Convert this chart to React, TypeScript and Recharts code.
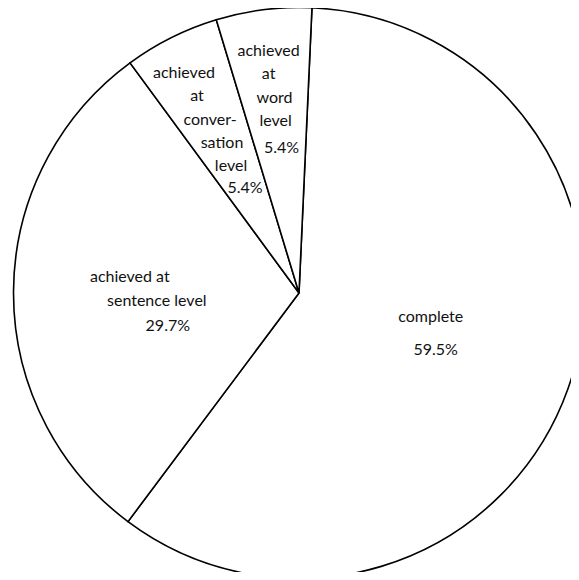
import { PieChart, Pie, Cell } from "recharts";

const categories = [
  "complete",
  "achieved at sentence level",
  "achieved at conversation level",
  "achieved at word level",
];
const percents = [59.5, 29.7, 5.4, 5.4];
const labelLines = [
  ["complete"],
  ["achieved at", "sentence level"],
  ["achieved", "at", "conver-", "sation", "level"],
  ["achieved", "at", "word", "level"],
];

const data = categories.map((name, i) => ({ name, value: percents[i] }));

// label block placement: radius fraction + per-line offsets from anchor
const labelLayout = [
  { rf: 0.49, offsets: [[0, -25], [5, 8]] },
  { rf: 0.54, offsets: [[-15, -17], [12, 7], [23, 32]] },
  { rf: 0.65, offsets: [[-32, -56], [-19, -33], [-6, -9], [6, 14], [15, 37], [29, 59]] },
  { rf: 0.69, offsets: [[-6, -48], [-6, -25], [0, -1], [1, 22], [7, 49]] },
];

const RAD = Math.PI / 180;

function renderLabel(props: any) {
  const { cx, cy, midAngle, outerRadius, index } = props;
  const layout = labelLayout[index];
  const r = outerRadius * layout.rf;
  const ax = cx + r * Math.cos(-midAngle * RAD);
  const ay = cy + r * Math.sin(-midAngle * RAD);
  const lines = [...labelLines[index], `${percents[index]}%`];
  return (
    <g key={`lbl-${index}`}>
      {lines.map((t, i) => (
        <text
          key={i}
          x={ax + layout.offsets[i][0]}
          y={ay + layout.offsets[i][1]}
          textAnchor="middle"
          dominantBaseline="central"
          fontFamily="Lato, sans-serif"
          fontWeight={400}
          fontSize={16}
          fill="#111"
        >
          {t}
        </text>
      ))}
    </g>
  );
}

export default function App() {
  return (
    <div style={{ margin: -8, background: "#fff", width: 579, height: 580 }}>
      <PieChart
        width={579}
        height={580}
        margin={{ top: 0, right: 0, bottom: 0, left: 0 }}
      >
        <Pie
          data={data}
          dataKey="value"
          nameKey="name"
          cx={299}
          cy={293}
          outerRadius={285.5}
          startAngle={87.4}
          endAngle={-272.6}
          stroke="#000"
          strokeWidth={1.6}
          label={renderLabel}
          labelLine={false}
          isAnimationActive={false}
        >
          {data.map((d) => (
            <Cell key={d.name} fill="#fff" />
          ))}
        </Pie>
      </PieChart>
    </div>
  );
}
